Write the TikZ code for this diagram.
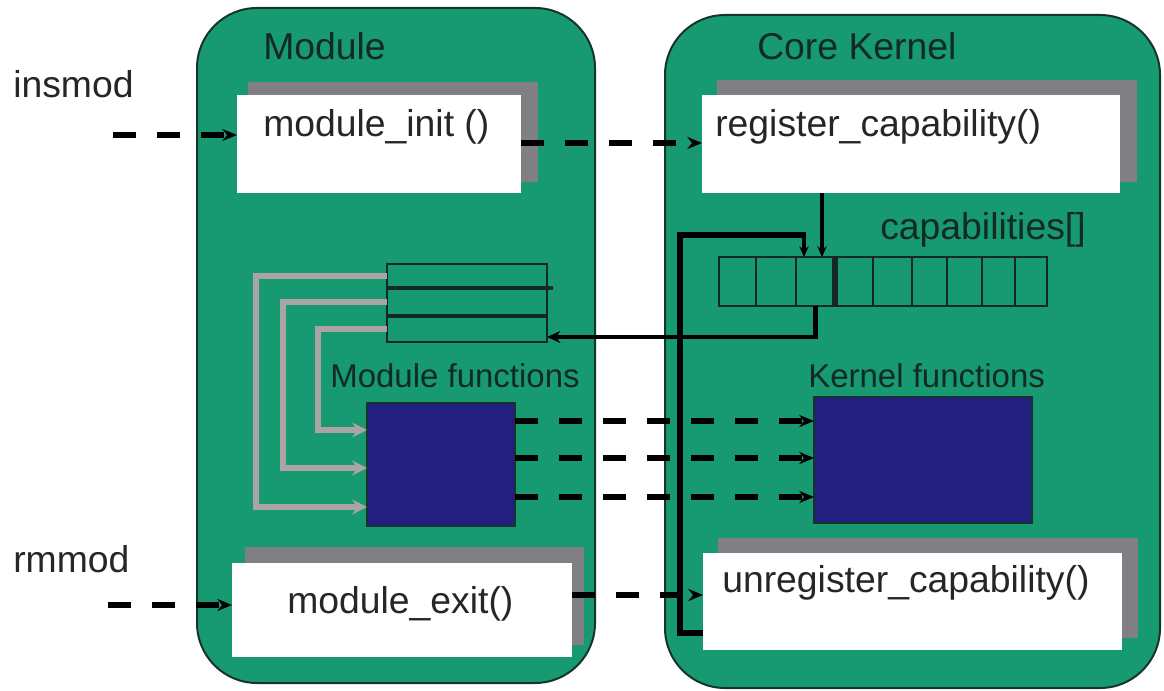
\documentclass[tikz,border=0pt]{standalone}
\usepackage{fontspec}
\setmainfont{Liberation Sans}
\usetikzlibrary{arrows.meta}
\definecolor{kgreen}{RGB}{23,154,113}
\definecolor{kborder}{RGB}{22,52,42}
\definecolor{klabel}{RGB}{18,42,34}
\definecolor{ktext}{RGB}{38,38,42}
\definecolor{kshadow}{RGB}{128,128,132}
\definecolor{kgrayline}{RGB}{170,164,164}
\definecolor{kblue}{RGB}{34,31,128}
\begin{document}
\begin{tikzpicture}[x=0.75pt,y=-0.75pt,
  container/.style={draw=kborder, fill=kgreen, line width=1.5pt, rounded corners=45pt, inner sep=0pt, outer sep=0pt, anchor=north west},
  shadowbox/.style={fill=kshadow, inner sep=0pt, outer sep=0pt, anchor=north west},
  whitebox/.style={fill=white, inner sep=0pt, outer sep=0pt, anchor=north west},
  fnbox/.style={fill=kblue, draw=kborder, line width=1pt, inner sep=0pt, outer sep=0pt, anchor=north west},
  tabrow/.style={draw=klabel, line width=1.6pt, inner sep=0pt, outer sep=0pt, anchor=north west, minimum width=120pt},
  capcell/.style={draw=klabel, line width=1.8pt, inner sep=0pt, outer sep=0pt, minimum height=36.75pt},
  biglbl/.style={font=\fontsize{28pt}{32pt}\selectfont, text=klabel, inner sep=0pt, anchor=base west},
  boxtxt/.style={font=\fontsize{28pt}{32pt}\selectfont, text=ktext, inner sep=0pt, anchor=base west},
  smalllbl/.style={font=\fontsize{24.75pt}{28pt}\selectfont, text=klabel, inner sep=0pt, anchor=base west},
  dasharr/.style={draw=black, line width=4pt, dash pattern=on 17pt off 16pt, -{Stealth[length=11pt,width=9pt]}},
  grayarr/.style={draw=kgrayline, line width=4.4pt, -{Stealth[length=11pt,width=11pt]}},
  thinarr/.style={draw=black, line width=2.4pt, -{Stealth[length=8pt,width=7pt]}},
  medarr/.style={draw=black, line width=3.2pt, -{Stealth[length=10pt,width=9pt]}},
  thickline/.style={draw=black, line width=5pt}
]
\useasboundingbox (0,0) rectangle (1164,691);
\fill[white] (0,0) rectangle (1164,691);

% containers
\node[container, minimum width=298.5pt, minimum height=506.25pt] (module) at (197,8) {};
\node[container, minimum width=371.25pt, minimum height=504.75pt] (kernel) at (665,15) {};

% titles and outside labels
\node[biglbl] (tmodule) at (263,60) {Module};
\node[biglbl] (tkernel) at (757,60) {Core Kernel};
\node[boxtxt] (tinsmod) at (13,98) {insmod};
\node[boxtxt] (trmmod) at (13,572) {rmmod};

% shadowed white boxes
\node[shadowbox, minimum width=217.5pt, minimum height=75pt] (initsh) at (248,82) {};
\node[whitebox, minimum width=213pt, minimum height=73.5pt] (init) at (237,95) {};
\node[boxtxt] (tinit) at (263,137) {module\_init ()};

\node[shadowbox, minimum width=315pt, minimum height=76.5pt] (regsh) at (717,80) {};
\node[whitebox, minimum width=313.5pt, minimum height=73.5pt] (reg) at (702,95) {};
\node[boxtxt] (treg) at (715,137) {register\_capability()};

\node[shadowbox, minimum width=254.25pt, minimum height=73.5pt] (exitsh) at (245,547) {};
\node[whitebox, minimum width=255pt, minimum height=70.5pt] (exit) at (232,563) {};
\node[boxtxt] (texit) at (287,613) {module\_exit()};

\node[shadowbox, minimum width=315pt, minimum height=75pt] (unregsh) at (718,538) {};
\node[whitebox, minimum width=314.25pt, minimum height=72.75pt] (unreg) at (703,553) {};
\node[boxtxt] (tunreg) at (722,592) {unregister\_capability()};

% function blocks
\node[smalllbl] (tmodfn) at (330,388) {Module functions};
\node[smalllbl] (tkerfn) at (808,388) {Kernel functions};
\node[fnbox, minimum width=111pt, minimum height=92.25pt] (modfn) at (367,403) {};
\node[fnbox, minimum width=163.5pt, minimum height=94.5pt] (kerfn) at (814,397) {};

% module function table
\node[tabrow, minimum height=18pt] (r1) at (387,264) {};
\node[tabrow, minimum height=21pt] (r2) at (387,288) {};
\node[tabrow, minimum height=19.5pt] (r3) at (387,316) {};
\draw[klabel, line width=2.6pt] (r1.south west) -- ([xshift=4.5pt]r1.south east);
\draw[klabel, line width=2.6pt] (r2.south west) -- (r2.south east);

% capabilities array
\node[biglbl] (tcaps) at (880,240) {capabilities[]};
\foreach \l/\r [count=\i] in {719/756,756/796,796/835,835/873,873/912,912/947,947/982,982/1015,1015/1047} {
  \pgfmathsetmacro\cw{(\r-\l)*0.75}
  \pgfmathsetmacro\cx{(\l+\r)/2}
  \node[capcell, minimum width=\cw pt] (c\i) at (\cx,281.5) {};
}
\draw[klabel, line width=4pt] (c3.north east) -- (c3.south east);

% gray arrows from table to module functions
\draw[grayarr] (r1.west) -| (256,507) -- (modfn.west |- 0,507);
\draw[grayarr] (r2.west) -| (283,468) -- (modfn.west |- 0,468);
\draw[grayarr] (r3.west) -| (318,430) -- (modfn.west |- 0,430);

% dashed arrows
\coordinate (insstart) at (113,135);
\coordinate (rmstart) at (108,605);
\draw[dasharr] (insstart) -- (init.west |- insstart);
\draw[dasharr] (rmstart) -- (exit.west |- rmstart);
\draw[dasharr] (init.east |- 0,143) -- (reg.west |- 0,143);
\draw[dasharr] (exit.east |- 0,595) -- (unreg.west |- 0,595);
\draw[dasharr] (modfn.east |- 0,421) -- (kerfn.west |- 0,421);
\draw[dasharr] (modfn.east |- 0,458) -- (kerfn.west |- 0,458);
\draw[dasharr] (modfn.east |- 0,497) -- (kerfn.west |- 0,497);

% register -> capabilities
\draw[thinarr] (reg.south -| 822,0) -- (c3.north -| 822,0);

% unregister -> capabilities (thick loop)
\draw[thickline] (unreg.west |- 0,633) -| (680,235) -- (806,235);
\draw[thinarr] (804,235) -- (c3.north -| 804,0);

% capabilities -> module table
\draw[medarr] (c3.south) -- (c3.south |- 0,337) -- (r3.east |- 0,337);
\end{tikzpicture}
\end{document}
